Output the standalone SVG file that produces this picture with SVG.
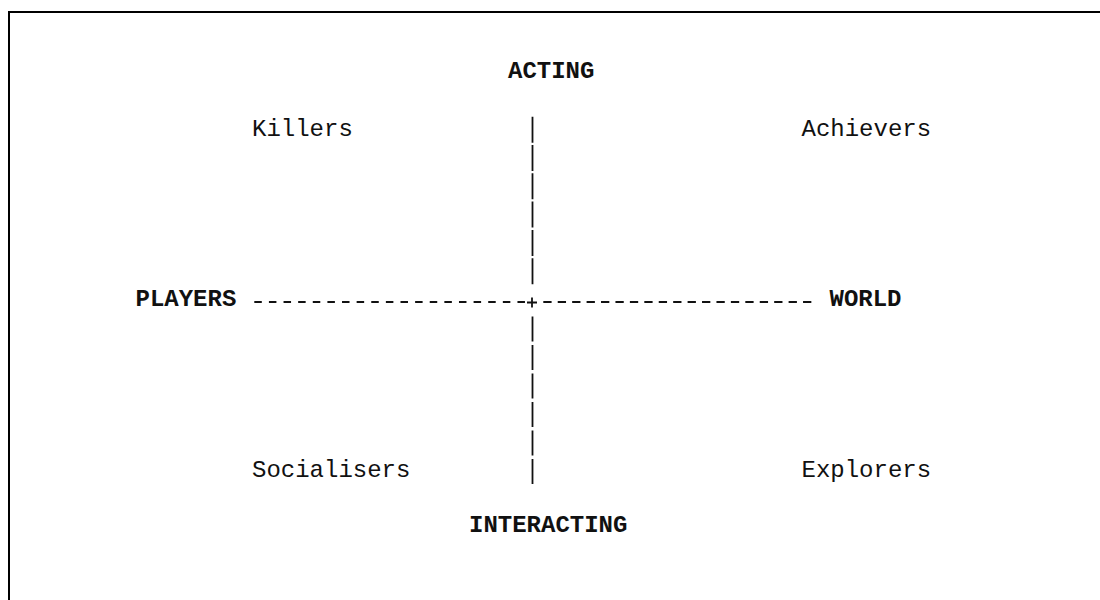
<svg xmlns="http://www.w3.org/2000/svg" width="1100" height="600" viewBox="0 0 1100 600">
  <style>
    .t { font-family: "Courier New", "Liberation Mono", monospace; font-size: 24px; fill: #111; }
    .b { font-weight: bold; }
    .ln { stroke: #111; fill: none; stroke-width: 1.8; }
  </style>
  <rect x="9" y="12" width="1200" height="700" fill="#fff" stroke="#000" stroke-width="2"/>
  <g id="connectors">
    <path class="ln" d="M254.3 302 H525" stroke-dasharray="7.5 7.12"/>
    <path class="ln" d="M543.3 302 H811.5" stroke-dasharray="8.3 6.13"/>
    <path class="ln" d="M532.5 116.7 V142.7 M532.5 145 V171 M532.5 173.3 V199.3 M532.5 201.6 V227.6 M532.5 229.9 V255.9 M532.5 258.2 V284.2"/>
    <path class="ln" d="M532.5 316.5 V341.5 M532.5 345 V370 M532.5 373.5 V398.5 M532.5 402 V427 M532.5 430.5 V455.5 M532.5 459 V484"/>
    <path class="ln" d="M527 302.5 H537 M532 297.5 V307.5" stroke-width="2"/>
  </g>
  <g id="acting"><text class="t b" x="508" y="78">ACTING</text></g>
  <g id="interacting"><text class="t b" x="469" y="531.5">INTERACTING</text></g>
  <g id="players"><text class="t b" x="135.5" y="306">PLAYERS</text></g>
  <g id="world"><text class="t b" x="829.5" y="306">WORLD</text></g>
  <g id="killers"><text class="t" x="252" y="136">Killers</text></g>
  <g id="achievers"><text class="t" x="801.5" y="136">Achievers</text></g>
  <g id="socialisers"><text class="t" x="252" y="477">Socialisers</text></g>
  <g id="explorers"><text class="t" x="801.5" y="477">Explorers</text></g>
</svg>
